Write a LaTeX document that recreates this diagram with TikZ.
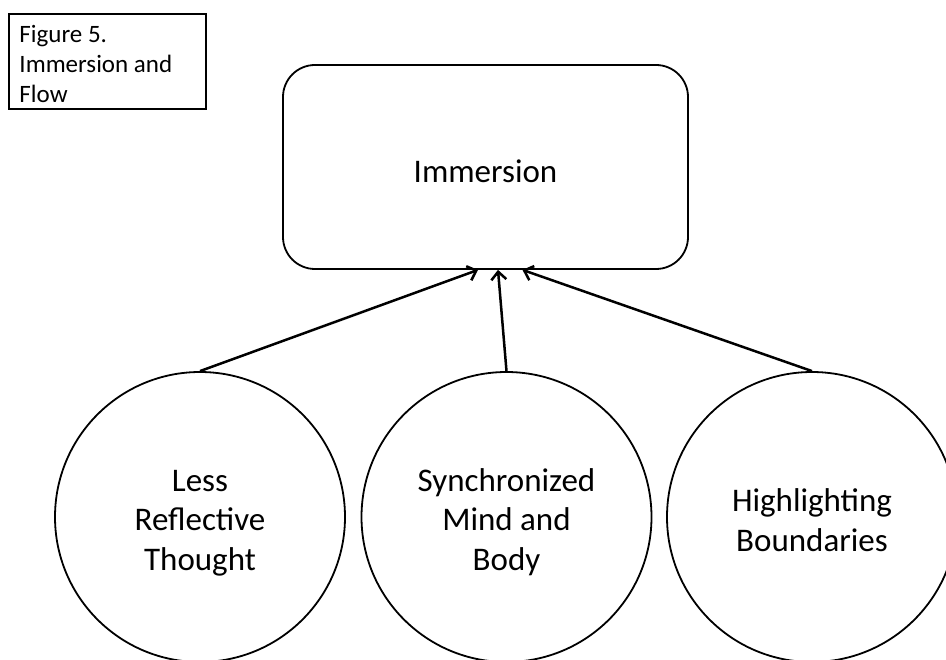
\documentclass[tikz,border=0pt]{standalone}
\usepackage{fontspec}
\setmainfont{Carlito}
\usetikzlibrary{arrows.meta}
\begin{document}
\begin{tikzpicture}[x=1pt,y=-1pt,
  figbox/.style={draw, line width=1.6pt, minimum width=197pt, minimum height=95pt,
    inner xsep=10.5pt, inner ysep=0pt, text width=176pt, align=flush left,
    text height=0pt, text depth=38pt,
    font=\fontsize{25}{30}\selectfont},
  mainbox/.style={draw, line width=1.8pt, rounded corners=32pt, minimum width=405pt,
    minimum height=204pt, text height=31.4pt, text depth=0pt,
    font=\fontsize{33}{40}\selectfont},
  factor/.style={draw, circle, line width=1.8pt, minimum size=290pt, inner sep=0pt,
    text width=260pt, align=flush center, text height=0pt,
    font=\fontsize{33}{39.3}\selectfont},
  link/.style={line width=2.5pt, -{Straight Barb[length=8pt,width=15pt]}}]
\useasboundingbox (0,0) rectangle (946,660);
\clip (0,0) rectangle (946,660);
\node[figbox] (fig) at (107.5,61.5) {Figure 5.\\Immersion and\\Flow};
\node[mainbox] (imm) at (485.5,167) {Immersion};
\node[factor, text depth=50.6pt] (less) at (200,517) {Less\\Reflective\\Thought};
\node[factor, text depth=50.6pt] (sync) at (506.5,517) {Synchronized\\Mind and\\Body};
\node[factor, text depth=10.6pt] (high) at (812,517) {Highlighting\\Boundaries};
\draw[link] (less.north) -- ([xshift=-7.5pt]imm.south);
\draw[link] (sync.north) -- ([xshift=12.5pt]imm.south);
\draw[link] (high.north) -- ([xshift=37pt]imm.south);
\end{tikzpicture}
\end{document}
